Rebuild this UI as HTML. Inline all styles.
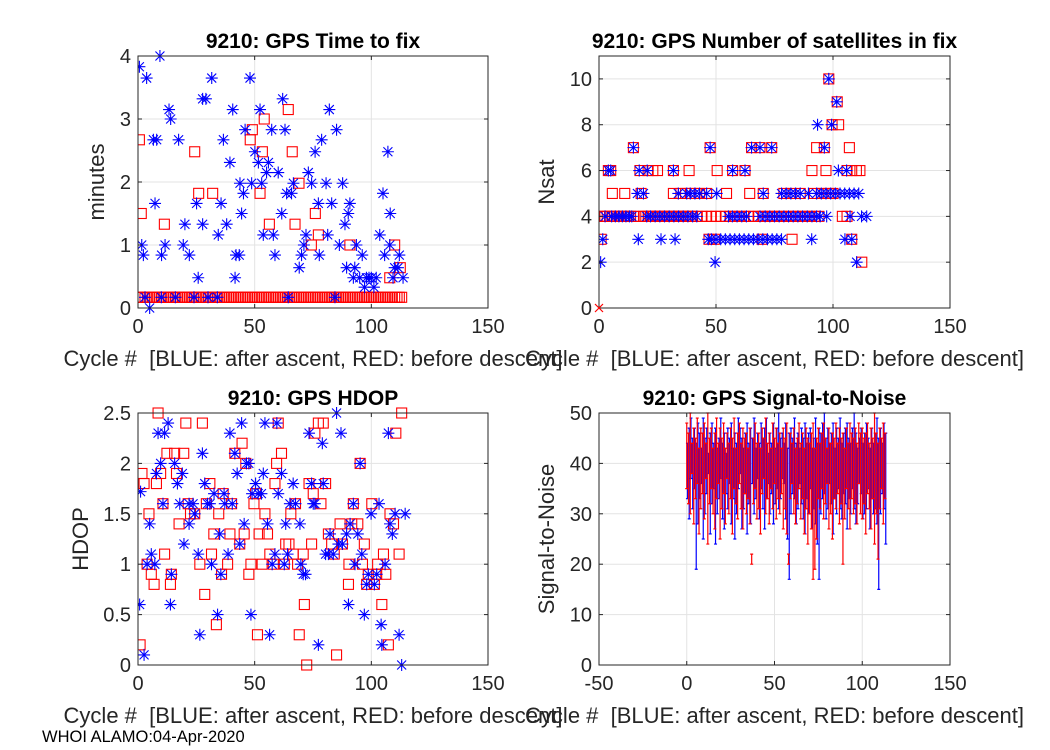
<!DOCTYPE html>
<html><head><meta charset="utf-8"><style>
body{margin:0;background:#fff;}
svg{display:block;font-family:"Liberation Sans",Arial,sans-serif;}
</style></head><body>
<svg id="fig" width="1050" height="750">
<text x="42" y="742" font-size="16.5" fill="#000">WHOI ALAMO:04-Apr-2020</text>
</svg>
<script>
// ---------- Data ----------
const ttfBlueX=[0.6,3.7,9.4,1.6,2.3,7.3,6.6,8.0,13.3,14.0,11.6,10.1,17.4,20.1,19.4,22.0,25.1,25.8,27.7,29.1,27.7,31.6,34.4,35.6,36.6,38,39.4,40.6,41.6,42,43.4,44.4,45.2,45.9,43.7,48,48.7,50.1,51.6,52.3,53,53.7,55.1,55.9,57.3,58,58.7,60.1,61.6,62,63,63.7,65.8,64.4,66.6,69.1,70.1,71.1,72,73,74.4,75.9,77.3,77.7,78.7,80.6,81.3,82,83,84.4,85.1,86.3,87.7,88.7,89.4,90.1,90.8,92.9,92.3,93.6,95,96.1,97.1,97.9,99,100,101.1,102.1,103.6,105,105.7,107.1,108.1,107.9,109.3,110,111.4,112,113.6,5,3,10,16,24,30,34];
const ttfBlueY=[3.83,3.65,4.0,1.0,0.84,1.66,2.67,2.67,3.15,3.0,1.0,0.84,2.67,1.33,1.0,0.84,1.66,0.48,3.32,3.32,1.33,3.65,1.16,1.66,2.67,1.33,2.31,3.15,0.48,0.84,0.84,1.5,1.82,2.83,1.98,3.65,1.98,2.48,2.31,3.15,1.98,1.16,2.15,2.31,2.83,1.16,0.84,2.15,1.5,3.32,2.83,1.82,1.82,0.17,1.98,0.64,0.84,1.0,1.16,2.15,1.98,2.48,1.66,0.84,2.67,1.98,1.16,3.15,1.66,0.17,2.83,1.0,1.98,1.33,0.64,1.5,1.66,0.64,0.48,1.0,0.48,0.84,0.33,0.48,0.48,0.48,0.33,0.48,1.16,1.82,0.84,2.48,1.5,1.0,0.48,0.64,0.64,0.84,0.48,0.0,0.17,0.17,0.17,0.17,0.17,0.17];
const ttfRedX=[0.6,1.4,11.3,24.3,26,32,49,48.1,53.3,54.1,52.3,56.3,64.4,66.1,67.3,69,74.3,76,77.3,90.8,107.9,110,112.4];
const ttfRedY=[2.67,1.5,1.33,2.48,1.82,1.82,2.83,2.67,2.48,3.0,1.82,1.33,3.15,2.48,1.33,1.98,1.0,1.5,1.16,1.0,0.48,1.0,0.64];
const ttfRedRowX=[0,1,2,3,4,5,6,7,8,9,10,11,12,13,14,15,16,17,18,19,20,21,22,23,24,25,26,27,28,29,30,31,32,33,34,35,36,37,38,39,40,41,42,43,44,45,46,47,48,49,50,51,52,53,54,55,56,57,58,59,60,61,62,63,64,65,66,67,68,69,70,71,72,73,74,75,76,77,78,79,80,81,82,83,84,85,86,87,88,89,90,91,92,93,94,95,96,97,98,99,100,101,102,103,104,105,106,107,108,109,110,111,112,113];
const ttfRedRowY=0.17;

const nsBlueX=[0.7,49.6,110.1, 1.6,16.8,26.5,32.5,46.7,48,50,52,54,56,58,60,62,64,66,68,70,72,74,76,78,90.9,105.1,108,
 2.6,5.4,7,8.5,10,11.5,13,14,20.4,22,24,26,28,30,32,34,36,38,40,41.8,55.3,57,59,61,63,68.8,71,73,75,77,79,81,83,85,87,89,91,93,94.5,97.3,107.3,112.2,114.4,
 16.4,19,33.9,37.5,39,41,43,46,50.3,70.2,78,80,82,84,86,89.5,93,95,97,99,101,103,105,107,109,111,
 4,5,17.2,20.6,31.8,57.1,62.4,102.3,105.8, 14.7,47.5,65.2,68.8,73.8,96.3, 93.4,99.4, 101.6, 98.2];
const nsBlueY=[2,2,2, 3,3,3,3,3,3,3,3,3,3,3,3,3,3,3,3,3,3,3,3,3,3,3,3,
 4,4,4,4,4,4,4,4,4,4,4,4,4,4,4,4,4,4,4,4,4,4,4,4,4,4,4,4,4,4,4,4,4,4,4,4,4,4,4,4,4,4,4,
 5,5,5,5,5,5,5,5,5,5,5,5,5,5,5,5,5,5,5,5,5,5,5,5,5,5,
 6,6,6,6,6,6,6,6,6, 7,7,7,7,7,7, 8,8, 9, 10];
const nsRedX=[98.2,101.8,99.6,102.4, 14.7,47.5,65.2,68.8,73.8,93,96.3,107, 4,5,17.5,21,23,25,31.8,38.5,50.5,57.1,62.4,91,97,106,108,110,111.5,
 5.7,11,18,31.8,35,37,39,41,43,46,54.5,64.4,70.2,79,82,86,92,95,98,100,
 0.5,1.5,2.5,3.5,4.5,5.5,6.5,7.5,8.5,9.5,10.5,11.5,12.5,13.5,15,17,19,20,21,22,23,24,25,26,27,28,29,30,31,32,33,34,35,36,37,38,39,40,42,44,46,48,50,52,54,56,58,60,62,64,66,68,70,72,74,76,78,80,82,84,86,88,90,92,94,104,106,108,
 0.9,47,49.3,69.7,82.5,112.3, 88.2];
const nsRedY=[10,9,8,8, 7,7,7,7,7,7,7,7, 6,6,6,6,6,6,6,6,6,6,6,6,6,6,6,6,6,
 5,5,5,5,5,5,5,5,5,5,5,5,5,5,5,5,5,5,5,5,
 4,4,4,4,4,4,4,4,4,4,4,4,4,4,4,4,4,4,4,4,4,4,4,4,4,4,4,4,4,4,4,4,4,4,4,4,4,4,4,4,4,4,4,4,4,4,4,4,4,4,4,4,4,4,4,4,4,4,4,4,4,4,4,4,4,4,4,
 3,3,3,3,3,3, 2];

const hdBlueX=[1.1,0.7,2.6,5,5.7,3.9,7.2,7.9,9.7,8.6,11.4,12.9,10.7,14.3,13.9,15.7,16.9,17.9,19,19.7,21.9,21.9,23.6,24.3,25.8,26.5,27.6,28.6,29.8,30.8,31.5,32.6,34.1,35,35.5,36.9,37.2,38.6,39.4,40.4,41.5,42.5,43.6,44.4,45.5,46.5,47.5,48.4,48.9,50.4,51.5,52.9,53.7,54.4,55.5,56.4,57.5,58.7,59.5,60.1,61.5,62.7,63.3,64.1,65.1,66.5,67.5,69.4,69.8,70.8,71.8,73.3,74.4,75.1,75.8,77.3,79,79.4,80.4,81.6,82.3,83.7,85.1,85.9,87,87.6,89.4,90.2,90.9,92.3,93,94.2,95.2,95.9,97,98,98.7,99.9,101.3,102.3,103.3,104.2,104.5,105.9,107.3,108,109,110.2,111.9,113,114.5];
const hdBlueY=[1.72,0.6,0.1,1.4,1.1,1.0,1.0,1.9,2.0,2.3,2.3,2.4,1.6,0.9,0.6,2.0,1.8,1.6,1.9,1.2,1.4,1.6,1.6,1.5,1.1,0.3,2.1,1.8,1.6,1.6,1.0,1.7,0.5,1.3,0.9,1.7,1.6,1.1,2.3,1.6,2.1,1.9,1.2,2.4,1.4,2.0,2.0,0.5,1.7,1.8,1.7,1.7,1.9,2.4,1.4,0.3,1.0,1.1,2.4,1.7,1.9,1.0,1.4,1.1,1.6,1.8,1.6,1.4,1.0,0.9,0.9,2.3,1.8,1.6,1.6,0.2,2.2,1.8,1.1,1.1,1.3,1.1,2.5,1.2,2.3,1.2,1.3,0.6,1.4,1.6,1.0,1.3,2.0,1.1,0.5,0.8,0.9,1.5,0.8,0.9,1.6,0.4,0.2,1.0,2.3,1.4,1.3,1.5,0.3,0.0,1.5];
const hdRedX=[0.9,1.7,2.6,4.7,3.9,5.7,6.9,7.9,8.6,9.7,10.7,11.4,12.4,13.9,14.3,15.7,16.5,17.6,19.6,20.5,21.5,22.5,24.3,26.5,27.6,28.6,29.3,30.8,31.5,32.5,33.6,34.6,35.8,36.5,38.4,39.4,40.1,41.5,43.6,44.6,45.5,46.2,47.5,48.4,49.7,50.4,51.2,51.9,53.2,54.4,55.5,56.5,58,58.7,59.4,60.1,61.5,62.7,63.3,64.7,65.5,66.5,67.5,69.1,68.4,70.8,71.3,72.3,74.4,73.3,75.1,75.8,77.3,78.4,79.4,80.4,81.6,83,84.1,85.1,86.6,87.6,90.2,90.4,91.6,92.3,94.2,95.2,96.2,97,98,98.7,100.2,101.3,102.3,102.7,104.5,105.2,106.2,107.3,108,109.5,110.5,111.9,113];
const hdRedY=[0.2,1.9,1.8,1.5,1.0,0.9,0.8,1.8,2.5,1.9,1.6,1.1,2.1,0.8,0.9,2.1,1.9,1.4,2.1,2.4,1.6,1.5,1.5,1.0,2.4,0.7,1.6,1.8,1.1,1.3,0.4,1.5,0.9,1.7,1.0,1.3,1.6,2.1,1.2,2.2,1.3,2.0,0.9,1.0,1.6,1.7,0.3,1.3,1.0,1.5,1.3,1.1,1.0,1.8,2.0,2.4,2.1,1.0,1.2,1.2,1.5,1.1,1.6,0.3,1.0,1.1,0.6,0.0,1.2,1.8,1.7,2.3,2.4,1.6,2.4,1.8,1.3,1.2,1.1,0.1,1.4,1.2,0.8,1.0,1.4,1.6,1.4,2.0,1.0,1.2,0.8,0.9,1.6,0.8,0.9,1.0,0.6,1.1,0.9,0.2,1.5,1.4,2.3,1.1,2.5];

const snBlueLo=[33,29,37,31,35,19,28,33,36,25,30,34,38,26,32,35,24,30,33,37,29,27,34,31,36,28,33,25,30,35,38,27,31,34,26,32,28,36,30,33,37,29,35,31,27,33,36,30,34,28,32,35,31,33,37,36,29,25,17,30,34,33,28,31,36,32,29,26,33,30,35,27,31,28,24,17,30,33,34,29,31,36,32,26,33,30,35,31,29,34,32,27,33,30,35,31,28,32,36,34,29,30,31,35,27,33,30,31,28,15,30,34,31,24];
const snBlueHi=[44,47,49,45,47,44,48,46,43,49,45,47,42,46,48,44,47,43,45,49,44,46,42,47,45,48,43,46,44,49,47,45,43,46,48,44,47,45,49,43,46,44,48,45,47,49,42,46,44,48,43,47,50,45,46,44,48,43,46,47,45,49,44,46,43,47,45,48,44,46,47,43,45,49,44,47,46,48,50,45,47,44,46,48,43,47,45,49,44,46,47,48,45,44,47,50,46,43,45,47,44,46,48,45,43,47,44,46,49,45,47,44,48,46];
const snRedLo=[35,32,30,38,28,33,36,26,31,34,29,37,24,32,35,30,27,33,36,25,31,34,28,37,30,33,26,35,32,29,36,31,27,34,30,33,28,20,32,35,29,31,26,34,37,30,33,28,35,31,36,29,33,30,34,27,31,26,20,33,36,30,28,32,35,29,33,26,31,24,30,27,17,19,25,33,31,35,29,32,36,27,30,25,33,31,34,28,32,20,29,35,31,27,33,30,32,28,36,30,29,32,26,34,31,27,33,24,30,21,31,35,28,33];
const snRedHi=[48,46,50,44,47,45,49,43,47,46,48,44,50,45,47,43,46,49,44,47,45,48,43,46,44,47,45,49,43,46,48,44,47,45,46,43,47,22,45,48,44,46,43,47,45,49,44,46,43,48,45,47,44,46,43,47,45,48,22,46,44,47,43,45,48,44,46,43,47,45,44,46,48,43,45,47,44,46,48,45,43,47,44,46,45,48,44,47,45,46,43,47,44,48,46,45,47,44,48,46,47,45,46,48,44,47,45,50,46,44,47,45,48,46];

// ---------- Drawing ----------
const NS='http://www.w3.org/2000/svg';
const fig=document.getElementById('fig');
function el(tag,attrs,parent){const e=document.createElementNS(NS,tag);for(const k in attrs)e.setAttribute(k,attrs[k]);(parent||fig).appendChild(e);return e;}

function makeAxes(cfg){
  const g=el('g',{});
  
  
  const sx=v=>cfg.L+(v-cfg.x0)/(cfg.x1-cfg.x0)*(cfg.R-cfg.L);
  const sy=v=>cfg.B-(v-cfg.y0)/(cfg.y1-cfg.y0)*(cfg.B-cfg.T);
  cfg.xt.forEach(t=>{const l=el('line',{x1:sx(t),x2:sx(t),y1:cfg.T,y2:cfg.B,stroke:'#e3e3e3','stroke-width':1},g);
    });
  cfg.yt.forEach(t=>{const l=el('line',{x1:cfg.L,x2:cfg.R,y1:sy(t),y2:sy(t),stroke:'#e3e3e3','stroke-width':1},g);
    });
  const plot=el('g',{},g);
  
  
  const box=el('rect',{x:cfg.L,y:cfg.T,width:cfg.R-cfg.L,height:cfg.B-cfg.T,fill:'none',stroke:'#262626','stroke-width':1},g);
  
  cfg.xt.forEach(t=>{
    el('line',{x1:sx(t),x2:sx(t),y1:cfg.B,y2:cfg.B-4,stroke:'#262626'},g);
    el('line',{x1:sx(t),x2:sx(t),y1:cfg.T,y2:cfg.T+4,stroke:'#262626'},g);
    const tx=el('text',{x:sx(t),y:cfg.B+25,'font-size':20,'text-anchor':'middle',fill:'#262626'},g);tx.textContent=t;
    
  });
  cfg.yt.forEach(t=>{
    el('line',{x1:cfg.L,x2:cfg.L+4,y1:sy(t),y2:sy(t),stroke:'#262626'},g);
    el('line',{x1:cfg.R,x2:cfg.R-4,y1:sy(t),y2:sy(t),stroke:'#262626'},g);
    const tx=el('text',{x:cfg.L-7,y:sy(t)+7,'font-size':20,'text-anchor':'end',fill:'#262626'},g);tx.textContent=t;
    
  });
  const ti=el('text',{x:(cfg.L+cfg.R)/2,y:cfg.T-8,'font-size':21,'font-weight':'bold','text-anchor':'middle',fill:'#000'},g);
  ti.textContent=cfg.title;
  const xl=el('text',{x:(cfg.L+cfg.R)/2,y:cfg.B+58,'font-size':22,'text-anchor':'middle',fill:'#262626'},g);
  xl.textContent='Cycle #\u00a0\u00a0[BLUE: after ascent, RED: before descent]';
  
  const yl=el('text',{x:0,y:0,'font-size':22,'text-anchor':'middle',fill:'#262626',transform:`translate(${cfg.ylx},${(cfg.T+cfg.B)/2}) rotate(-90)`},g);
  yl.textContent=cfg.ylabel;
  return {sx,sy,plot,g};
}
function clipIn(ax,cfg,id){
  const cp=el('clipPath',{id:id},ax.g);el('rect',{x:cfg.L,y:cfg.T-6,width:cfg.R-cfg.L+8,height:cfg.B-cfg.T+12},cp);
  ax.plot.setAttribute('clip-path',`url(#${id})`);
}
function star(p,x,y,c){
  const s=el('path',{d:`M${x-6},${y}H${x+6}M${x},${y-6}V${y+6}M${x-4.5},${y-4.5}L${x+4.5},${y+4.5}M${x-4.5},${y+4.5}L${x+4.5},${y-4.5}`,stroke:c,'stroke-width':1.1,fill:'none'},p);
  
  
}
function sq(p,x,y,c){
  const s=el('rect',{x:x-5,y:y-5,width:10,height:10,stroke:c,'stroke-width':1.1,fill:'none'},p);
  
  
}

const c1={name:'time-to-fix-panel',L:138,R:488,T:56,B:308,x0:0,x1:150,y0:0,y1:4,xt:[0,50,100,150],yt:[0,1,2,3,4],title:'9210: GPS Time to fix',ylabel:'minutes',ylx:104};
const a1=makeAxes(c1);clipIn(a1,c1,'c1');
ttfRedRowX.forEach(x=>sq(a1.plot,a1.sx(x),a1.sy(ttfRedRowY),'#ff0000'));
ttfRedX.forEach((x,i)=>sq(a1.plot,a1.sx(x),a1.sy(ttfRedY[i]),'#ff0000'));
ttfBlueX.forEach((x,i)=>star(a1.plot,a1.sx(x),a1.sy(ttfBlueY[i]),'#0000ff'));

const c2={name:'nsat-panel',L:599,R:950,T:56,B:308,x0:0,x1:150,y0:0,y1:11,xt:[0,50,100,150],yt:[0,2,4,6,8,10],title:'9210: GPS Number of satellites in fix',ylabel:'Nsat',ylx:554};
const a2=makeAxes(c2);clipIn(a2,c2,'c2');
nsRedX.forEach((x,i)=>sq(a2.plot,a2.sx(x),a2.sy(nsRedY[i]),'#ff0000'));
nsBlueX.forEach((x,i)=>star(a2.plot,a2.sx(x),a2.sy(nsBlueY[i]),'#0000ff'));
const cx=a2.sx(0),cy=a2.sy(0);
const xm=el('path',{d:`M${cx-4},${cy-4}L${cx+4},${cy+4}M${cx-4},${cy+4}L${cx+4},${cy-4}`,stroke:'#ff0000','stroke-width':1.2},a2.g);



const c3={name:'hdop-panel',L:138,R:488,T:413,B:665,x0:0,x1:150,y0:0,y1:2.5,xt:[0,50,100,150],yt:[0,0.5,1,1.5,2,2.5],title:'9210: GPS HDOP',ylabel:'HDOP',ylx:88};
const a3=makeAxes(c3);clipIn(a3,c3,'c3');
hdRedX.forEach((x,i)=>sq(a3.plot,a3.sx(x),a3.sy(hdRedY[i]),'#ff0000'));
hdBlueX.forEach((x,i)=>star(a3.plot,a3.sx(x),a3.sy(hdBlueY[i]),'#0000ff'));

const c4={name:'snr-panel',L:599,R:950,T:413,B:665,x0:-50,x1:150,y0:0,y1:50,xt:[-50,0,50,100,150],yt:[0,10,20,30,40,50],title:'9210: GPS Signal-to-Noise',ylabel:'Signal-to-Noise',ylx:554};
const a4=makeAxes(c4);clipIn(a4,c4,'c4');
function bar(p,x,lo,hi,c,nm){
  const X=a4.sx(x),Y1=a4.sy(lo),Y2=a4.sy(hi);
  const b=el('path',{d:`M${X},${Y1}V${Y2}M${X-1.5},${Y1}H${X+1.5}M${X-1.5},${Y2}H${X+1.5}`,stroke:c,'stroke-width':1.2,fill:'none'},p);
  
  
}
snBlueLo.forEach((lo,i)=>bar(a4.plot,i+0.4,lo,snBlueHi[i],'#0000ff','blue-snr-range'));
snRedLo.forEach((lo,i)=>bar(a4.plot,i,lo,snRedHi[i],'#ff0000','red-snr-range'));
</script>
</body></html>
